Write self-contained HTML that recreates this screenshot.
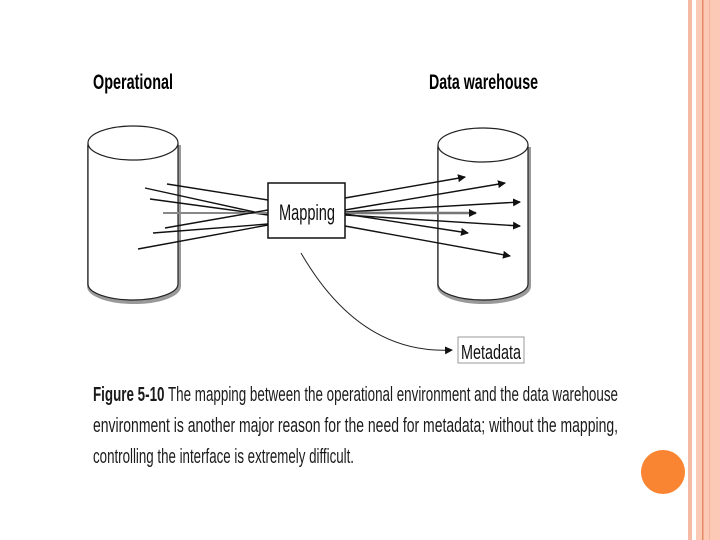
<!DOCTYPE html>
<html><head><style>html,body{margin:0;padding:0;background:#fff;width:720px;height:540px;overflow:hidden}</style></head>
<body>
<svg width="720" height="540" viewBox="0 0 720 540" xmlns="http://www.w3.org/2000/svg" font-family="'Liberation Sans Narrow','Liberation Sans',sans-serif">
<defs><marker id="a" markerWidth="8" markerHeight="8" refX="7" refY="4" orient="auto" markerUnits="userSpaceOnUse"><path d="M0,0 L8,4 L0,8 z" fill="#111"/></marker></defs>
<rect x="688" y="0" width="4" height="540" fill="#f6b9a3"/>
<rect x="696" y="0" width="24" height="540" fill="#fbc9b6"/>
<rect x="702" y="0" width="1.5" height="540" fill="#e58a63"/>
<rect x="709" y="0" width="1" height="540" fill="#f3b49b"/>
<circle cx="663" cy="472" r="22" fill="#f98533"/>
<text x="93" y="89" font-size="21" font-weight="bold" textLength="80" lengthAdjust="spacingAndGlyphs">Operational</text>
<text x="429" y="89" font-size="21" font-weight="bold" textLength="109" lengthAdjust="spacingAndGlyphs">Data warehouse</text>
<g fill="#fff" stroke="#222" stroke-width="1.2">
<path d="M88,143 L88,284 A45,16 0 0 0 178,284 L178,143" stroke="#999" stroke-width="4" transform="translate(1,2)" fill="none"/>
<path d="M88,143 L88,284 A45,16 0 0 0 178,284 L178,143"/>
<ellipse cx="133" cy="143" rx="45" ry="17"/>
<path d="M438,145 L438,284 A45,16 0 0 0 528,284 L528,145" stroke="#999" stroke-width="4" transform="translate(1,2)" fill="none"/>
<path d="M438,145 L438,284 A45,16 0 0 0 528,284 L528,145"/>
<ellipse cx="483" cy="145" rx="45" ry="17"/>
</g>
<g stroke="#111" stroke-width="1.4">
<line x1="167" y1="184" x2="268" y2="200"/>
<line x1="145" y1="188" x2="268" y2="215"/>
<line x1="150" y1="199" x2="268" y2="215"/>
<line x1="163" y1="213" x2="268" y2="213" stroke="#888" stroke-width="2"/>
<line x1="165" y1="228" x2="268" y2="210"/>
<line x1="153" y1="233" x2="268" y2="224"/>
<line x1="138" y1="249" x2="268" y2="225"/>
</g>
<g stroke="#111" stroke-width="1.4" marker-end="url(#a)">
<line x1="345" y1="198" x2="465" y2="177"/>
<line x1="345" y1="210" x2="505" y2="183"/>
<line x1="345" y1="212" x2="520" y2="202"/>
<line x1="345" y1="213" x2="476" y2="213" stroke="#777" stroke-width="2.5"/>
<line x1="345" y1="215" x2="520" y2="226"/>
<line x1="345" y1="214" x2="468" y2="233"/>
<line x1="345" y1="226" x2="510" y2="256"/>
</g>
<rect x="268" y="183" width="77" height="55" fill="#fff" stroke="#111" stroke-width="1.5"/>
<text x="279" y="220" font-size="22" textLength="56" lengthAdjust="spacingAndGlyphs" fill="#111">Mapping</text>
<path d="M301,253 Q360,355 452,350" fill="none" stroke="#222" stroke-width="1" marker-end="url(#a)"/>
<rect x="458" y="337" width="66" height="26" fill="#fff" stroke="#999" stroke-width="1"/>
<text x="461" y="359" font-size="20" textLength="60" lengthAdjust="spacingAndGlyphs" fill="#111">Metadata</text>
<text x="93" y="401" font-size="20" textLength="525" lengthAdjust="spacingAndGlyphs" fill="#1a1a1a"><tspan font-weight="bold">Figure 5-10</tspan>   The mapping between the operational environment and the data warehouse</text>
<text x="93" y="432" font-size="20" textLength="525" lengthAdjust="spacingAndGlyphs" fill="#1a1a1a">environment is another major reason for the need for metadata; without the mapping,</text>
<text x="93" y="463" font-size="20" textLength="261" lengthAdjust="spacingAndGlyphs" fill="#1a1a1a">controlling the interface is extremely difficult.</text>
</svg>
</body></html>
